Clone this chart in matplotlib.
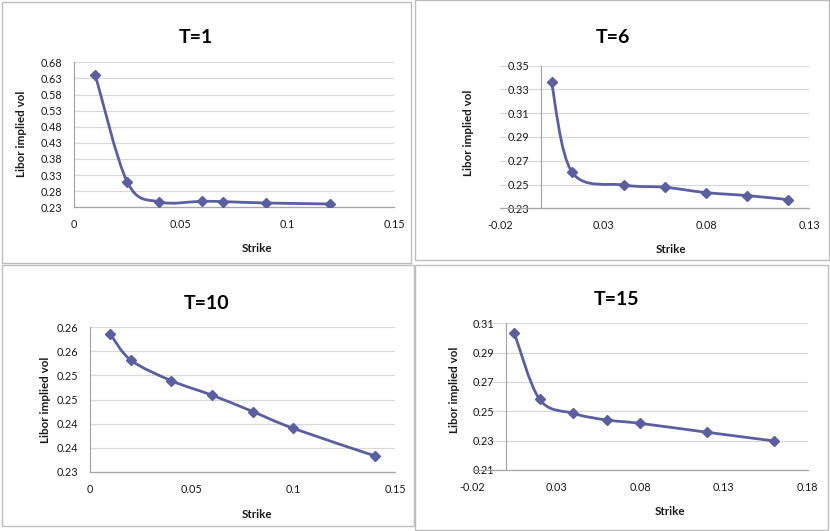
import numpy as np
import matplotlib.pyplot as plt
from matplotlib.path import Path
from matplotlib.patches import PathPatch, Rectangle

# ---- data ----
strike_t1 = [0.01, 0.025, 0.04, 0.06, 0.07, 0.09, 0.12]
vol_t1 = [0.640, 0.308, 0.2466, 0.2486, 0.2476, 0.2434, 0.2403]

strike_t6 = [0.005, 0.015, 0.04, 0.06, 0.08, 0.10, 0.12]
vol_t6 = [0.336, 0.2603, 0.2496, 0.2477, 0.2432, 0.2407, 0.2373]

strike_t10 = [0.01, 0.02, 0.04, 0.06, 0.08, 0.10, 0.14]
vol_t10 = [0.2586, 0.2532, 0.2489, 0.2459, 0.2425, 0.2390, 0.2333]

strike_t15 = [0.005, 0.02, 0.04, 0.06, 0.08, 0.12, 0.16]
vol_t15 = [0.3032, 0.2582, 0.2486, 0.2441, 0.2418, 0.2357, 0.2298]

titles = ["T=1", "T=6", "T=10", "T=15"]

xticks_t1 = [0, 0.05, 0.1, 0.15]
xlabels_t1 = ["0", "0.05", "0.1", "0.15"]
yticks_t1 = [0.23, 0.28, 0.33, 0.38, 0.43, 0.48, 0.53, 0.58, 0.63, 0.68]
ylabels_t1 = ["0.23", "0.28", "0.33", "0.38", "0.43", "0.48", "0.53", "0.58", "0.63", "0.68"]

xticks_t6 = [-0.02, 0.03, 0.08, 0.13]
xlabels_t6 = ["-0.02", "0.03", "0.08", "0.13"]
yticks_t6 = [0.23, 0.25, 0.27, 0.29, 0.31, 0.33, 0.35]
ylabels_t6 = ["0.23", "0.25", "0.27", "0.29", "0.31", "0.33", "0.35"]

xticks_t10 = [0, 0.05, 0.1, 0.15]
xlabels_t10 = ["0", "0.05", "0.1", "0.15"]
yticks_t10 = [0.23, 0.235, 0.24, 0.245, 0.25, 0.255, 0.26]
ylabels_t10 = ["0.23", "0.24", "0.24", "0.25", "0.25", "0.26", "0.26"]

xticks_t15 = [-0.02, 0.03, 0.08, 0.13, 0.18]
xlabels_t15 = ["-0.02", "0.03", "0.08", "0.13", "0.18"]
yticks_t15 = [0.21, 0.23, 0.25, 0.27, 0.29, 0.31]
ylabels_t15 = ["0.21", "0.23", "0.25", "0.27", "0.29", "0.31"]

LINE_COLOR = "#5B5FA0"
GRID_COLOR = "#D9D9D9"
AXIS_COLOR = "#A6A6A6"
FRAME_COLOR = "#BEBEBE"
TEXT_COLOR = "#1A1A1A"
W, H = 830, 531

plt.rcParams["font.family"] = ["Lato", "DejaVu Sans"]


def smooth_path(xs, ys):
    """Excel-like smoothed line: Catmull-Rom segments as cubic Beziers."""
    pts = np.column_stack([xs, ys])
    n = len(pts)
    verts = [pts[0]]
    codes = [Path.MOVETO]
    for i in range(n - 1):
        p0 = pts[max(i - 1, 0)]
        p1 = pts[i]
        p2 = pts[i + 1]
        p3 = pts[min(i + 2, n - 1)]
        verts += [p1 + (p2 - p0) / 6, p2 - (p3 - p1) / 6, p2]
        codes += [Path.CURVE4] * 3
    return Path(verts, codes)


def px_rect(x0, y0, x1, y1):
    """Pixel box (top-left origin) -> figure fraction [l, b, w, h]."""
    return [x0 / W, 1 - y1 / H, (x1 - x0) / W, (y1 - y0) / H]


def draw_panel(fig, rect, xs, ys, xlim, ylim, xticks, xlabels, yticks, ylabels,
               ylab_pos, xlab_pos):
    ax = fig.add_axes(rect)
    ax.add_patch(PathPatch(smooth_path(xs, ys), facecolor="none",
                           edgecolor=LINE_COLOR, lw=2.0,
                           capstyle="round", joinstyle="round", zorder=3))
    ax.plot(xs, ys, linestyle="none", marker="D", ms=4.8,
            color=LINE_COLOR, zorder=4)
    ax.set_xlim(xlim)
    ax.set_ylim(ylim)
    ax.set_xticks(xticks)
    ax.set_xticklabels(xlabels)
    ax.set_yticks(yticks)
    ax.set_yticklabels(ylabels)
    ax.tick_params(length=0, labelsize=7.8, colors=TEXT_COLOR, pad=8.5)
    for lab in ax.get_yticklabels():
        lab.set_bbox(dict(boxstyle="square,pad=0.05", fc="white", ec="none"))

    ax.yaxis.grid(True, color=GRID_COLOR, lw=0.9)
    ax.xaxis.grid(False)
    ax.set_axisbelow(True)

    for side in ["top", "right"]:
        ax.spines[side].set_visible(False)
    ax.spines["left"].set_position(("data", 0))
    for side in ["left", "bottom"]:
        ax.spines[side].set_color(AXIS_COLOR)
        ax.spines[side].set_linewidth(0.9)

    ax.set_ylabel("Libor implied vol", fontsize=8.4, fontweight="bold",
                  color=TEXT_COLOR, va="center")
    ax.yaxis.set_label_coords(*ylab_pos)
    ax.set_xlabel("Strike", fontsize=8.4, fontweight="bold",
                  color=TEXT_COLOR, va="center")
    ax.xaxis.set_label_coords(*xlab_pos)
    return ax


def main():
    fig = plt.figure(figsize=(W / 100, H / 100), dpi=100)

    # chart frames
    for box in [(2, 2, 411, 263), (415, 0, 829, 260),
                (2, 265, 414, 526), (415, 265, 828, 530)]:
        fig.add_artist(Rectangle(px_rect(*box)[:2], *px_rect(*box)[2:],
                                 transform=fig.transFigure, fill=False,
                                 edgecolor=FRAME_COLOR, lw=1.0))

    draw_panel(fig, px_rect(74, 62.3, 394, 207.3), strike_t1, vol_t1,
               (0, 0.15), (0.23, 0.68), xticks_t1, xlabels_t1,
               yticks_t1, ylabels_t1, (-0.163, 0.51), (0.571, -0.281))
    draw_panel(fig, px_rect(500, 65.7, 809, 208.3), strike_t6, vol_t6,
               (-0.02, 0.13), (0.23, 0.35), xticks_t6, xlabels_t6,
               yticks_t6, ylabels_t6, (-0.1026, 0.526), (0.553, -0.2875))
    draw_panel(fig, px_rect(90, 327.3, 395, 471.7), strike_t10, vol_t10,
               (0, 0.15), (0.23, 0.26), xticks_t10, xlabels_t10,
               yticks_t10, ylabels_t10, (-0.1475, 0.4965), (0.5466, -0.293))
    draw_panel(fig, px_rect(472.5, 323.3, 807.7, 470), strike_t15, vol_t15,
               (-0.02, 0.18), (0.21, 0.31), xticks_t15, xlabels_t15,
               yticks_t15, ylabels_t15, (-0.0543, 0.545), (0.589, -0.284))

    # chart titles (x centre, baseline in pixels)
    for title, (tx, ty) in zip(titles, [(195.8, 42.7), (612.5, 43.3),
                                        (206.7, 309.3), (617, 305)]):
        fig.text(tx / W, 1 - ty / H, title, ha="center", va="baseline",
                 fontsize=14, fontweight="bold", color="black")

    fig.savefig("out.png", dpi=100)


if __name__ == "__main__":
    main()
